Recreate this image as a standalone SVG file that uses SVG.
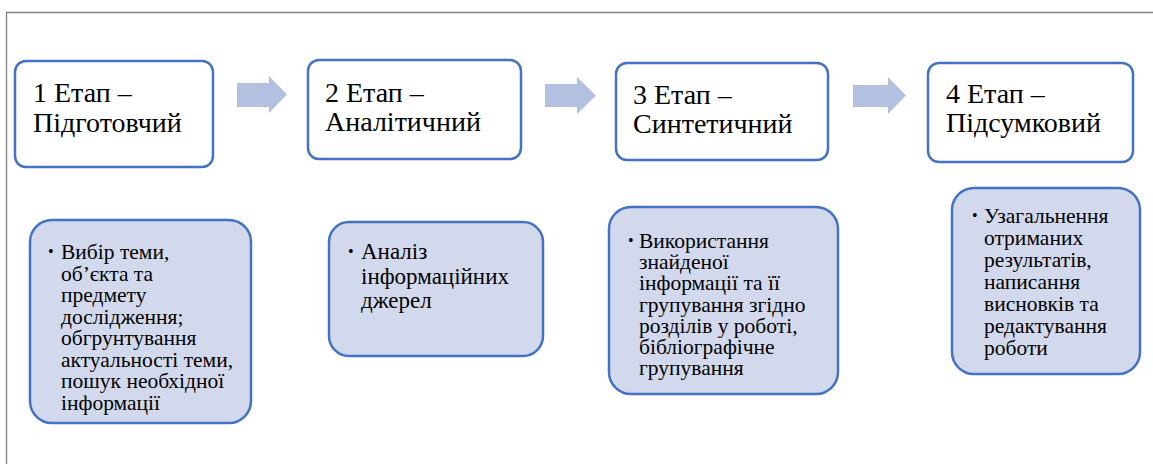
<svg xmlns="http://www.w3.org/2000/svg" width="1153" height="464" viewBox="0 0 1153 464" font-family="Liberation Serif, Times New Roman, serif">
<style>
.frame{fill:none;stroke:#808080;stroke-width:1.3}
.stage{fill:#ffffff;stroke:#4472C4;stroke-width:2.5}
.task{fill:#D3D9EC;stroke:#4472C4;stroke-width:2.5}
.arrow{fill:#B4C0E0;stroke:none}
.t1{font-size:28px;fill:#000}
.t2{font-size:21.5px;fill:#000}
.t3{font-size:23px;fill:#000}
.b{font-size:16px;fill:#000}
</style>
<rect width="1153" height="464" fill="#ffffff"/>
<path class="frame" d="M6.5,464 V12.5 H1153"/>
<g id="connectors">
<polygon class="arrow" points="237,83 269,83 269,76 287,94.5 269,113 269,107 237,107"/>
<polygon class="arrow" points="545,84 577,84 577,77 596,95.5 577,114 577,107 545,107"/>
<polygon class="arrow" points="853,85 888,85 888,77 906,95.5 888,114 888,107 853,107"/>
</g>
<g id="stage1">
<rect class="stage" x="15" y="61" width="198" height="106" rx="11"/>
<text class="t1" x="33" y="102">1 Етап –</text>
<text class="t1" x="33" y="132">Підготовчий</text>
</g>
<g id="stage2">
<rect class="stage" x="308" y="60" width="213" height="99" rx="11"/>
<text class="t1" x="325" y="102">2 Етап –</text>
<text class="t1" x="325" y="131">Аналітичний</text>
</g>
<g id="stage3">
<rect class="stage" x="616" y="63" width="212" height="97" rx="11"/>
<text class="t1" x="633" y="104">3 Етап –</text>
<text class="t1" x="633" y="133">Синтетичний</text>
</g>
<g id="stage4">
<rect class="stage" x="928" y="63" width="205" height="99" rx="11"/>
<text class="t1" x="946" y="103">4 Етап –</text>
<text class="t1" x="946" y="132">Підсумковий</text>
</g>
<g id="task1">
<rect class="task" x="30" y="220" width="221" height="203" rx="22"/>
<text class="b" x="48" y="257">•</text>
<text class="t2" x="61" y="259">Вибір теми,</text>
<text class="t2" x="61" y="280.5">об’єкта та</text>
<text class="t2" x="61" y="302">предмету</text>
<text class="t2" x="61" y="323.5">дослідження;</text>
<text class="t2" x="61" y="345">обгрунтування</text>
<text class="t2" x="61" y="366.5">актуальності теми,</text>
<text class="t2" x="61" y="388">пошук необхідної</text>
<text class="t2" x="61" y="409.5">інформації</text>
</g>
<g id="task2">
<rect class="task" x="329" y="222" width="214" height="134" rx="20"/>
<text class="b" x="348" y="257">•</text>
<text class="t3" x="361" y="259">Аналіз</text>
<text class="t3" x="361" y="283.5">інформаційних</text>
<text class="t3" x="361" y="308">джерел</text>
</g>
<g id="task3">
<rect class="task" x="609" y="207" width="229" height="187" rx="22"/>
<text class="b" x="628" y="246">•</text>
<text class="t2" x="639" y="248">Використання</text>
<text class="t2" x="639" y="269.2">знайденої</text>
<text class="t2" x="639" y="290.4">інформації та її</text>
<text class="t2" x="639" y="311.6">групування згідно</text>
<text class="t2" x="639" y="332.8">розділів у роботі,</text>
<text class="t2" x="639" y="354">бібліографічне</text>
<text class="t2" x="639" y="375.2">групування</text>
</g>
<g id="task4">
<rect class="task" x="952" y="188" width="188" height="186" rx="22"/>
<text class="b" x="972" y="221">•</text>
<text class="t2" x="984" y="223">Узагальнення</text>
<text class="t2" x="984" y="245">отриманих</text>
<text class="t2" x="984" y="267">результатів,</text>
<text class="t2" x="984" y="289">написання</text>
<text class="t2" x="984" y="311">висновків та</text>
<text class="t2" x="984" y="333">редактування</text>
<text class="t2" x="984" y="355">роботи</text>
</g>
</svg>
